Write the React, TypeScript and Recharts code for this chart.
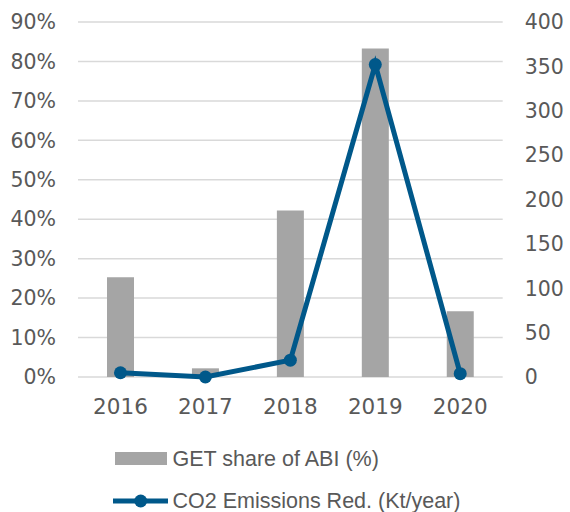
import React from "react";
import { ComposedChart, Bar, Line, XAxis, YAxis, CartesianGrid, Legend } from "recharts";

const years = ["2016", "2017", "2018", "2019", "2020"];
const getShare = [0.253, 0.022, 0.422, 0.833, 0.167];
const co2Reduction = [4.8, 0, 19, 352, 3.7];
const leftTicks = [0, 0.1, 0.2, 0.3, 0.4, 0.5, 0.6, 0.7, 0.8, 0.9];
const rightTicks = [0, 50, 100, 150, 200, 250, 300, 350, 400];

const data = years.map((y, i) => ({ year: y, share: getShare[i], co2: co2Reduction[i] }));

const TICK_FONT = "'DejaVu Sans', sans-serif";
const LEG_FONT = "'Liberation Sans', Arial, sans-serif";
const TXT = "#595959";
const BAR = "#A5A5A5";
const LINE = "#00588A";

const LegendContent = () => (
  <svg width={570} height={72} style={{ display: "block" }}>
    <rect x={115} y={12} width={52} height={13} fill={BAR} />
    <text x={172.5} y={18.5} dominantBaseline="central" fontFamily={LEG_FONT} fontSize={21.5} fill={TXT}>
      GET share of ABI (%)
    </text>
    <line x1={113} y1={61} x2={168} y2={61} stroke={LINE} strokeWidth={5} />
    <circle cx={140.7} cy={61} r={6.5} fill={LINE} />
    <text x={172.5} y={61} dominantBaseline="central" fontFamily={LEG_FONT} fontSize={21.5} fill={TXT}>
      CO2 Emissions Red. (Kt/year)
    </text>
  </svg>
);

export default function App() {
  return (
    <div style={{ position: "absolute", left: 0, top: 0, width: 570, height: 512, background: "#fff" }}>
      <ComposedChart width={570} height={512} data={data} margin={{ top: 22, right: 0, left: 0, bottom: 95 }}>
        <CartesianGrid yAxisId="left" vertical={false} stroke="#D9D9D9" strokeWidth={1.5} />
        <XAxis
          dataKey="year"
          axisLine={false}
          tickLine={false}
          tickSize={6}
          tickMargin={15.5}
          height={40}
          tick={{ fill: TXT, fontSize: 21.5, fontFamily: TICK_FONT }}
        />
        <YAxis
          yAxisId="left"
          domain={[0, 0.9]}
          ticks={leftTicks}
          tickFormatter={(v: number) => `${Math.round(v * 100)}%`}
          axisLine={false}
          tickLine={false}
          tickSize={6}
          tickMargin={16}
          width={78}
          tick={{ fill: TXT, fontSize: 20.5, fontFamily: TICK_FONT }}
        />
        <YAxis
          yAxisId="right"
          orientation="right"
          domain={[0, 400]}
          ticks={rightTicks}
          axisLine={false}
          tickLine={false}
          tickSize={6}
          tickMargin={16}
          width={67.3}
          tick={{ fill: TXT, fontSize: 20.5, fontFamily: TICK_FONT, textAnchor: "start" }}
        />
        <Bar yAxisId="left" dataKey="share" fill={BAR} barSize={27} isAnimationActive={false} />
        <Line
          yAxisId="right"
          type="linear"
          dataKey="co2"
          stroke={LINE}
          strokeWidth={5}
          dot={{ r: 6.5, fill: LINE, stroke: LINE, strokeWidth: 0 }}
          activeDot={false}
          isAnimationActive={false}
        />
        <Legend
          verticalAlign="middle"
          align="center"
          layout="horizontal"
          wrapperStyle={{ top: 440, left: 0, width: 570 }}
          content={() => <LegendContent />}
        />
      </ComposedChart>
    </div>
  );
}
